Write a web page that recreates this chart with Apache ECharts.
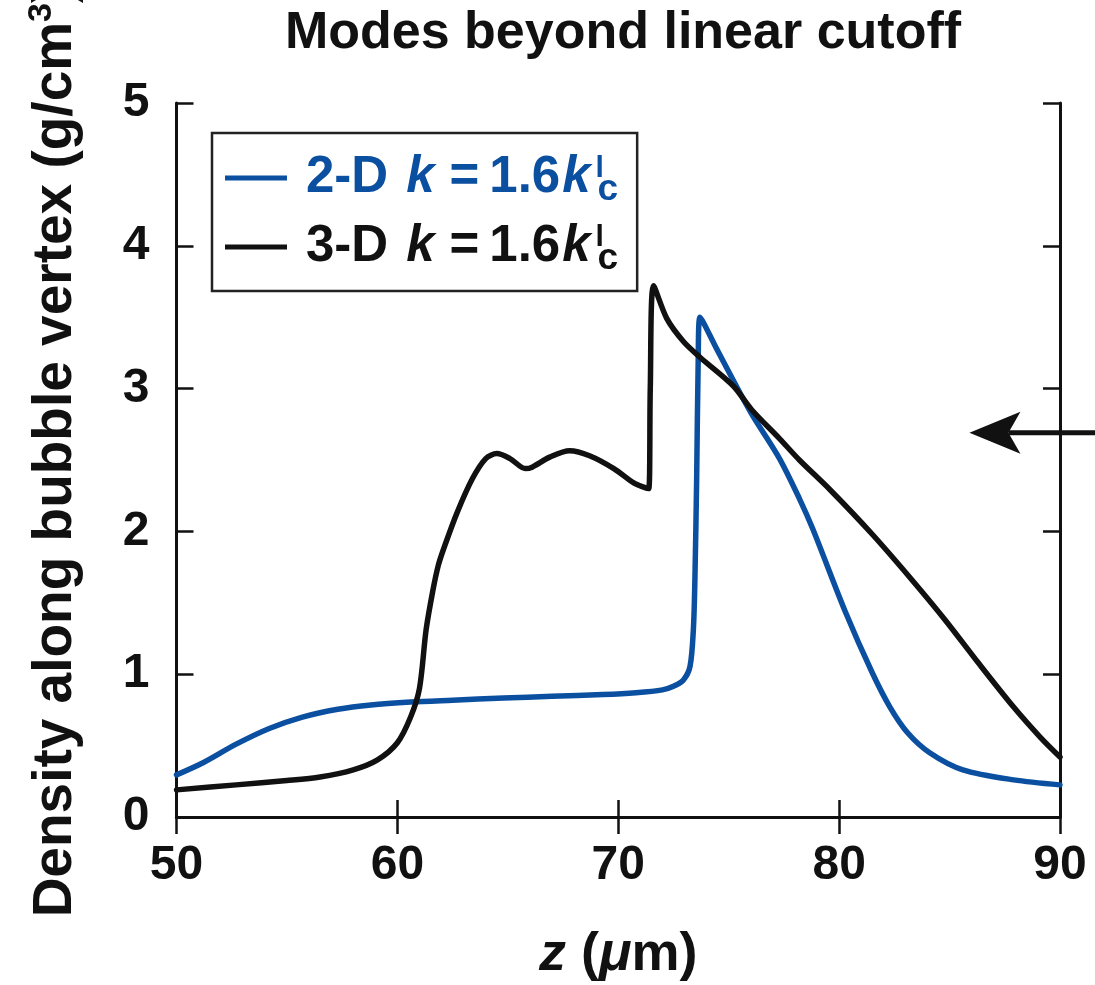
<!DOCTYPE html>
<html>
<head>
<meta charset="utf-8">
<script src="https://cdn.jsdelivr.net/npm/echarts@6/dist/echarts.min.js"></script>
<style>
  html, body { margin: 0; padding: 0; background: #fff; }
  #chart { width: 1095px; height: 985px; }
</style>
</head>
<body>
<div id="chart"></div>
<script>
// 2-D simulation: density along the bubble vertex (g/cm^3) vs z (um)
const z2D = [50, 51.2, 52.7, 54.2, 55.7, 57.3, 58.8, 60.6, 62.5, 64.8, 67, 69.3, 70.8, 72, 72.5,
  72.95, 73.25, 73.4, 73.47, 73.55, 73.62, 73.7, 74.45, 75.2, 76.05, 77.3, 78.2, 78.8, 80.3,
  81.5, 82.3, 83.1, 84.1, 85.6, 87.9, 90];
const rho2D = [0.295, 0.38, 0.51, 0.62, 0.70, 0.755, 0.785, 0.805, 0.818, 0.833, 0.845, 0.857, 0.87, 0.89, 0.915,
  0.96, 1.055, 1.31, 1.66, 2.37, 3.2, 3.50, 3.28, 3.06, 2.82, 2.51, 2.23, 2.02, 1.43,
  1.01, 0.77, 0.59, 0.45, 0.33, 0.26, 0.225];

// 3-D simulation
const z3D = [50, 52.7, 55, 56.5, 58, 59.1, 60, 60.6, 61.0, 61.3, 61.6, 61.85, 62.1, 62.7, 63.4, 64.0, 64.5,
  65.1, 65.8, 66.1, 66.9, 67.8, 68.7, 69.8, 70.7, 71.15, 71.38, 71.45, 71.6, 72.2, 72.95, 73.7,
  75.2, 76.05, 77.3, 78.2, 79.6, 81.5, 83.3, 84.8, 86.3, 87.9, 89.1, 90];
const rho3D = [0.19, 0.225, 0.255, 0.28, 0.33, 0.40, 0.52, 0.70, 0.90, 1.31, 1.58, 1.76, 1.88, 2.13, 2.37, 2.51, 2.545,
  2.51, 2.44, 2.45, 2.52, 2.565, 2.53, 2.44, 2.34, 2.31, 2.30, 3.0, 3.72, 3.49, 3.33, 3.22,
  3.02, 2.85, 2.65, 2.50, 2.29, 1.98, 1.66, 1.38, 1.08, 0.77, 0.56, 0.42];

// Axis ranges and ticks
const zRange = [50, 90], zStep = 10;
const rhoRange = [0, 5], rhoStep = 1;

// Arrow marking the density level on the right edge (tail z, tip z, density)
const arrowZ = [91.8, 85.9];
const arrowRho = 2.69;

const BLUE = '#0b4fa0';
const INK = '#111';
const FONT = '"Liberation Sans", Arial, Helvetica, sans-serif';

const pairs = (xs, ys) => xs.map((x, i) => [x, ys[i]]);

const chart = echarts.init(document.getElementById('chart'), null, { renderer: 'canvas' });

const tickStyle = { show: true, inside: true, length: 17, lineStyle: { color: INK, width: 2.5 } };
const lineStyle = { show: true, lineStyle: { color: INK, width: 3 } };

function legendRich(color) {
  const base = { color, fontSize: 51, fontWeight: 'bold', fontFamily: FONT, lineHeight: 60 };
  return {
    a: Object.assign({}, base, { padding: [0, 0, 0, 14] }),
    k: Object.assign({}, base, { fontStyle: 'italic', padding: [0, 0, 0, 18] }),
    e: Object.assign({}, base, { padding: [0, 0, 0, 15] }),
    n: Object.assign({}, base, { padding: [0, 0, 0, 10] }),
    k2: Object.assign({}, base, { fontStyle: 'italic', padding: [0, 0, 0, 2] }),
    s: { color, fontSize: 30, fontWeight: 'bold', fontFamily: FONT, lineHeight: 30, verticalAlign: 'top', width: 1, padding: [6, 0, 0, 5] },
    c: { color, fontSize: 37, fontWeight: 'bold', fontFamily: FONT, lineHeight: 36, verticalAlign: 'bottom', padding: [0, 0, 0, 1] }
  };
}
const richBlue = legendRich(BLUE);
const richBlack = legendRich(INK);
const rich = {};
Object.keys(richBlue).forEach(k => { rich['b' + k] = richBlue[k]; rich['q' + k] = richBlack[k]; });

const option = {
  animation: false,
  backgroundColor: '#fff',
  title: {
    text: 'Modes beyond linear cutoff',
    left: 618, top: 3, textAlign: 'center',
    textStyle: { fontFamily: FONT, fontWeight: 'bold', fontSize: 52, color: INK }
  },
  grid: { left: 176.5, right: 35, top: 103, bottom: 168, containLabel: false, outerBoundsMode: 'none' },
  legend: {
    orient: 'vertical', left: 212, top: 133,
    padding: [15, 19, 14, 13],
    borderColor: '#222', borderWidth: 2.5,
    itemWidth: 62, itemHeight: 5, itemGap: 9,
    icon: 'rect',
    data: ['2-D', '3-D'],
    formatter: name => {
      const p = name === '2-D' ? 'b' : 'q';
      return `{${p}a|${name}}{${p}k|k}{${p}e|=}{${p}n|1.6}{${p}k2|k}{${p}s|l}{${p}c|c}`;
    },
    textStyle: { rich }
  },
  xAxis: [{
    type: 'value', min: zRange[0], max: zRange[1], interval: zStep,
    position: 'bottom',
    axisLine: lineStyle, axisTick: tickStyle, splitLine: { show: false },
    axisLabel: { color: INK, fontFamily: FONT, fontWeight: 'bold', fontSize: 48, margin: 25 },
    name: '{zi|z}{n| (}{mu|μ}{n|m)}',
    nameLocation: 'middle', nameGap: 111,
    nameTextStyle: {
      rich: {
        zi: { fontFamily: FONT, fontWeight: 'bold', fontStyle: 'italic', fontSize: 54, color: INK },
        n: { fontFamily: FONT, fontWeight: 'bold', fontSize: 54, color: INK },
        mu: { fontFamily: FONT, fontWeight: 'bold', fontStyle: 'italic', fontSize: 54, color: INK }
      }
    }
  }, {
    type: 'value', min: zRange[0], max: zRange[1], interval: zStep,
    position: 'top',
    axisLine: lineStyle, axisTick: tickStyle, splitLine: { show: false },
    axisLabel: { show: false }
  }],
  yAxis: [{
    type: 'value', min: rhoRange[0], max: rhoRange[1], interval: rhoStep,
    position: 'left',
    axisLine: lineStyle, axisTick: tickStyle, splitLine: { show: false },
    axisLabel: { color: INK, fontFamily: FONT, fontWeight: 'bold', fontSize: 48, margin: 27 },
    name: '{n|Density along bubble vertex (g/cm}{s|3}{n|)}',
    nameLocation: 'middle', nameRotate: 90, nameGap: 90,
    nameTextStyle: {
      padding: [0, 0, 0, 18],
      rich: {
        n: { fontFamily: FONT, fontWeight: 'bold', fontSize: 55, color: INK, lineHeight: 62 },
        s: { fontFamily: FONT, fontWeight: 'bold', fontSize: 34, color: INK, lineHeight: 34, verticalAlign: 'top' }
      }
    }
  }, {
    type: 'value', min: rhoRange[0], max: rhoRange[1], interval: rhoStep,
    position: 'right',
    axisLine: lineStyle, axisTick: tickStyle, splitLine: { show: false },
    axisLabel: { show: false }
  }],
  series: [{
    name: '2-D', type: 'line', xAxisIndex: 0, yAxisIndex: 0,
    data: pairs(z2D, rho2D),
    showSymbol: false, smooth: 0.3,
    lineStyle: { color: BLUE, width: 5.5, cap: 'round', join: 'round' },
    itemStyle: { color: BLUE }, z: 3
  }, {
    name: '3-D', type: 'line', xAxisIndex: 0, yAxisIndex: 0,
    data: pairs(z3D, rho3D),
    showSymbol: false, smooth: 0.3,
    lineStyle: { color: INK, width: 5.5, cap: 'round', join: 'round' },
    itemStyle: { color: INK }, z: 4
  }]
};

chart.setOption(option);

// Arrow drawn in data coordinates converted through the axes
const tail = chart.convertToPixel({ xAxisIndex: 0, yAxisIndex: 0 }, [arrowZ[0], arrowRho]);
const tip = chart.convertToPixel({ xAxisIndex: 0, yAxisIndex: 0 }, [arrowZ[1], arrowRho]);
const headLen = 51, headHalf = 21, notch = 12;
chart.setOption({
  graphic: [{
    type: 'line', silent: true, z: 10,
    shape: { x1: tail[0], y1: tail[1], x2: tip[0] + headLen - notch, y2: tip[1] },
    style: { stroke: INK, lineWidth: 5 }
  }, {
    type: 'polygon', silent: true, z: 10,
    shape: { points: [
      [tip[0], tip[1]],
      [tip[0] + headLen, tip[1] - headHalf],
      [tip[0] + headLen - notch, tip[1]],
      [tip[0] + headLen, tip[1] + headHalf]
    ] },
    style: { fill: INK }
  }]
});
</script>
</body>
</html>
